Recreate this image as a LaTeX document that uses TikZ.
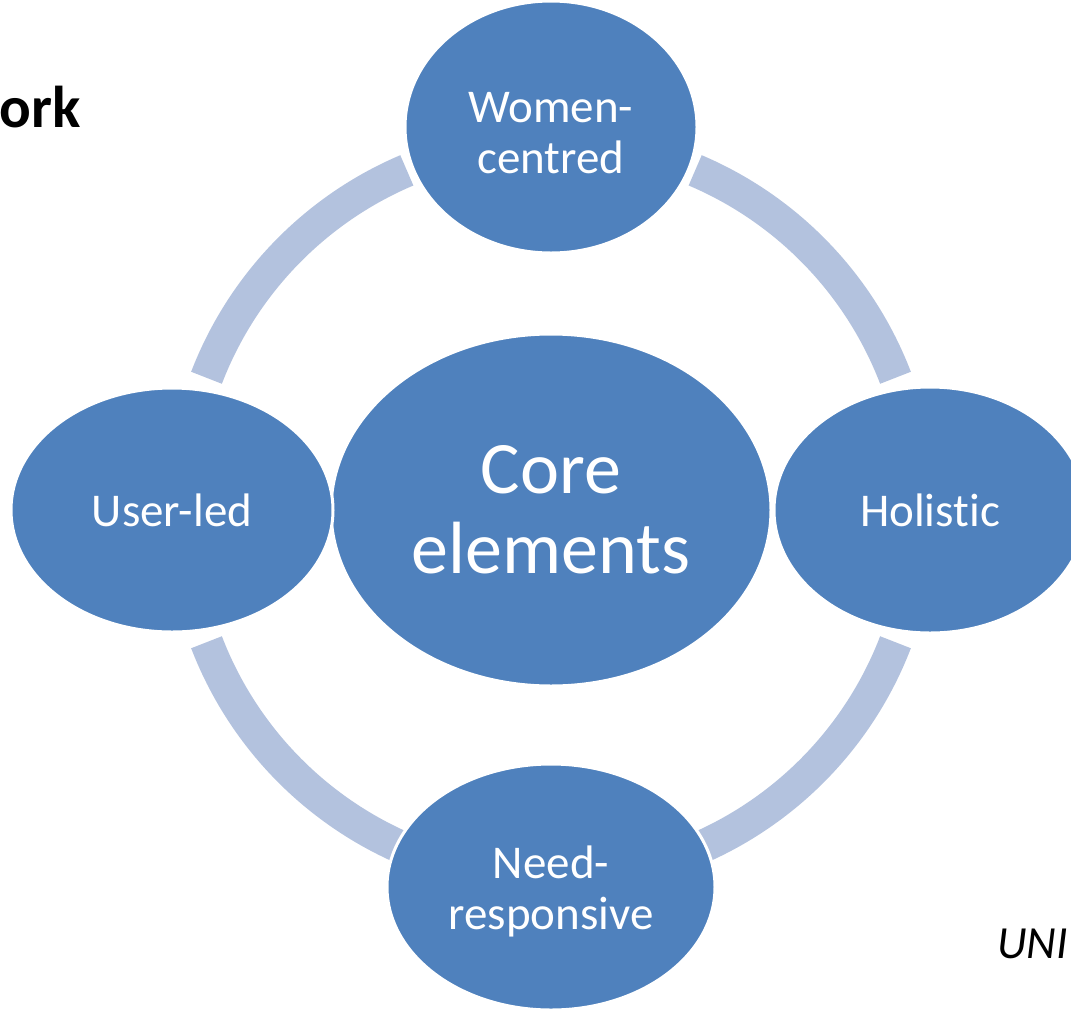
\documentclass[tikz,border=0pt]{standalone}
\usepackage{fontspec}
\setmainfont{Carlito}[Ligatures=NoCommon]
\usetikzlibrary{shapes.geometric}
\definecolor{nodeblue}{HTML}{4F81BD}
\definecolor{ringblue}{HTML}{B3C2DE}
\newcommand{\tallstrut}{\rule{0pt}{42pt}}
\begin{document}
\begin{tikzpicture}[x=1pt,y=-1pt,
  elem/.style={ellipse,fill=nodeblue,draw=white,line width=3pt,inner sep=0pt,
    text=white,align=center,font=\fontsize{47}{51}\selectfont},
  ring/.style={draw=ringblue,line width=33pt,line cap=butt}]
\useasboundingbox (0,0) rectangle (1071,1010);
\coordinate (ctr) at (551,510);
% ring segments
\draw[ring] (ctr) ++(21:369) arc[start angle=21,end angle=67,radius=369];
\draw[ring] (ctr) ++(113:369) arc[start angle=113,end angle=159,radius=369];
\draw[ring] (ctr) ++(201:369) arc[start angle=201,end angle=247,radius=369];
\draw[ring] (ctr) ++(293:369) arc[start angle=293,end angle=339,radius=369];
% nodes
\node[elem,minimum width=440pt,minimum height=352pt,font=\fontsize{74}{80}\selectfont] (core) at (ctr) {Core\\elements};
\node[elem,minimum width=292pt,minimum height=252pt] (top) at (551,127) {\tallstrut Women-\\centred};
\node[elem,minimum width=322pt,minimum height=244pt] (left) at (172,510) {User-led};
\node[elem,minimum width=312pt,minimum height=246pt] (right) at (930,510) {Holistic};
\node[elem,minimum width=328pt,minimum height=246pt] (bottom) at (551,887) {\tallstrut Need-\\responsive};
% side texts
\node[anchor=base east,inner sep=0pt,font=\fontsize{59}{62}\selectfont\bfseries] (ttl) at (81,127) {ork};
\node[anchor=base west,inner sep=0pt,font=\fontsize{46}{50}\selectfont\itshape] (src) at (997,958) {UNI};
\end{tikzpicture}
\end{document}
